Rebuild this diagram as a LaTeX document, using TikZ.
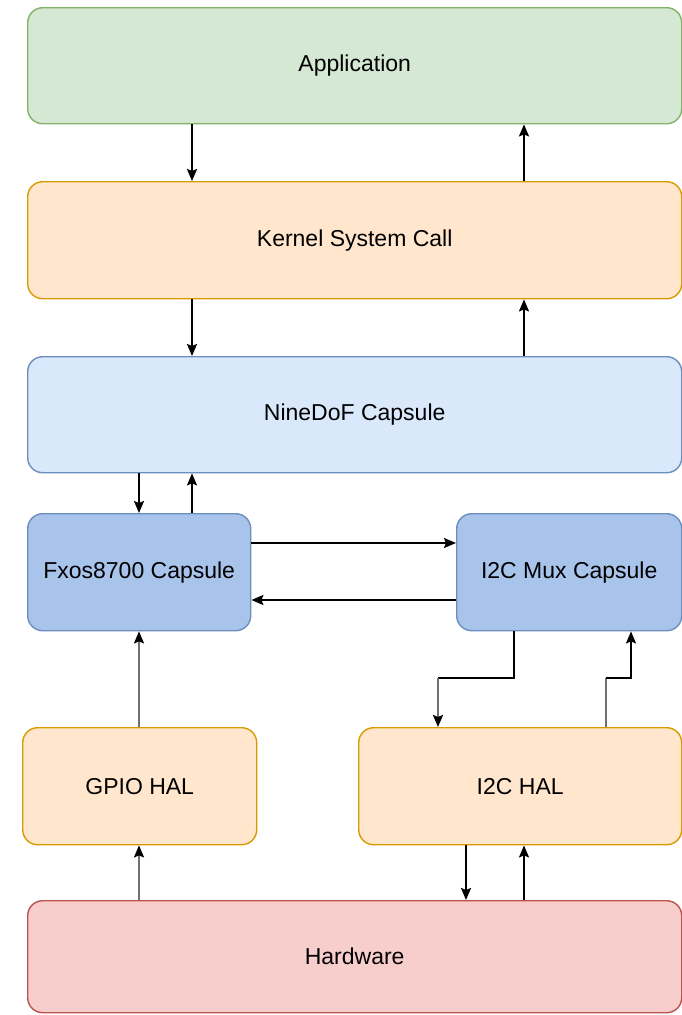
\documentclass[tikz,border=0pt]{standalone}
\usepackage{fontspec}
\setmainfont{Liberation Sans}
\usetikzlibrary{arrows.meta}
\definecolor{appfill}{HTML}{D5E8D4}\definecolor{appline}{HTML}{82B366}
\definecolor{orfill}{HTML}{FFE6CC}\definecolor{orline}{HTML}{D79B00}
\definecolor{blfill}{HTML}{DAE8FC}\definecolor{blline}{HTML}{6C8EBF}
\definecolor{bl2fill}{HTML}{A9C4EB}
\definecolor{rdfill}{HTML}{F8CECC}\definecolor{rdline}{HTML}{B85450}
\definecolor{grayline}{HTML}{707070}
\tikzset{
  box/.style={draw, line width=1.4pt, rounded corners=15pt, anchor=north west,
    inner sep=0pt, font=\fontsize{23}{27}\selectfont},
  arr/.style={line width=2pt, black, -{Stealth[length=12pt,width=10pt,inset=2pt]}},
  garr/.style={line width=2.2pt, grayline, -{Stealth[length=12pt,width=10pt,inset=2pt,color=black]}},
  gline/.style={line width=2.2pt, grayline},
}
\begin{document}
\begin{tikzpicture}[x=1pt,y=-1pt]
\useasboundingbox (0,0) rectangle (682,1015);
\node[box, fill=appfill, draw=appline, minimum width=654pt, minimum height=116pt] (app) at (27,7) {Application};
\node[box, fill=orfill, draw=orline, minimum width=654pt, minimum height=117pt] (kernel) at (27,181) {Kernel System Call};
\node[box, fill=blfill, draw=blline, minimum width=654pt, minimum height=116pt] (nine) at (27,356) {NineDoF Capsule};
\node[box, fill=bl2fill, draw=blline, minimum width=223pt, minimum height=117pt] (fxos) at (27,513) {Fxos8700 Capsule};
\node[box, fill=bl2fill, draw=blline, minimum width=225pt, minimum height=117pt] (mux) at (456,513) {I2C Mux Capsule};
\node[box, fill=orfill, draw=orline, minimum width=234pt, minimum height=117pt] (gpio) at (22,727) {GPIO HAL};
\node[box, fill=orfill, draw=orline, minimum width=323pt, minimum height=117pt] (i2chal) at (358,727) {I2C HAL};
\node[box, fill=rdfill, draw=rdline, minimum width=654pt, minimum height=112pt] (hw) at (27,900) {Hardware};

% app <-> kernel
\draw[arr] (app.south -| 192,0) -- (kernel.north -| 192,0);
\draw[arr] (kernel.north -| 524,0) -- (app.south -| 524,0);
% kernel <-> nine
\draw[arr] (kernel.south -| 192,0) -- (nine.north -| 192,0);
\draw[arr] (nine.north -| 524,0) -- (kernel.south -| 524,0);
% nine <-> fxos
\draw[arr] (nine.south -| 139,0) -- (fxos.north -| 139,0);
\draw[arr] (fxos.north -| 192,0) -- (nine.south -| 192,0);
% fxos <-> mux
\draw[arr] (fxos.east |- 0,543) -- (mux.west |- 0,543);
\draw[arr] (mux.west |- 0,600) -- (fxos.east |- 0,600);
% gpio -> fxos
\draw[garr] (gpio.north -| 139,0) -- (fxos.south -| 139,0);
% mux -> i2c hal (elbow)
\coordinate (d1) at (514,678);
\coordinate (d2) at (438,678);
\draw[line width=2pt, black, line join=miter] (mux.south -| d1) -- (d1) -- (d2);
\draw[garr] (d2) -- (i2chal.north -| d2);
% i2c hal -> mux (elbow)
\coordinate (u1) at (606,678);
\coordinate (u2) at (631,678);
\draw[gline] (i2chal.north -| u1) -- (u1);
\draw[arr, line join=miter] (u1) -- (u2) -- (mux.south -| u2);
% hw -> gpio
\draw[garr] (hw.north -| 139,0) -- (gpio.south -| 139,0);
% i2c hal <-> hw
\draw[arr] (i2chal.south -| 466,0) -- (hw.north -| 466,0);
\draw[arr] (hw.north -| 524,0) -- (i2chal.south -| 524,0);
\end{tikzpicture}
\end{document}
